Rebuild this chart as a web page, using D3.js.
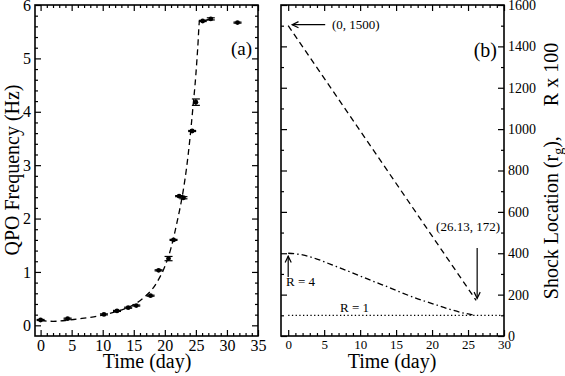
<!DOCTYPE html>
<html><head><meta charset="utf-8">
<script src="https://cdn.jsdelivr.net/npm/d3@7"></script>
<style>
body{margin:0;background:#fff;}
svg{display:block;}
svg text{font-family:"Liberation Serif","DejaVu Serif",serif;font-weight:normal;fill:#000;}
</style></head>
<body><svg id="c" width="565" height="376"></svg>
<script>
// ---- Panel (a) data: QPO frequency vs time ----
const days   = [0, 4.35, 10.2, 12.3, 14.1, 15.4, 17.7, 19.0, 20.6, 21.4, 22.3, 23.0, 24.4, 25.0, 26.1, 27.4, 31.7];
const qpo    = [0.10, 0.125, 0.205, 0.27, 0.33, 0.37, 0.555, 1.03, 1.25, 1.60, 2.42, 2.39, 3.64, 4.18, 5.70, 5.74, 5.67];
const qpoErr = [0.01, 0.01, 0.01, 0.01, 0.01, 0.01, 0.01, 0.01, 0.04, 0.01, 0.01, 0.02, 0.01, 0.06, 0.01, 0.02, 0.01];
// fitted (dashed) curve
const fitDays = [0, 1, 2, 4, 6, 8, 10, 12, 14, 15, 16, 17, 18, 19, 20, 21, 22, 23, 23.5, 24, 24.5, 25, 25.3, 25.6, 26.2, 27.4];
const fitQpo  = [0.09, 0.08, 0.075, 0.09, 0.12, 0.15, 0.19, 0.25, 0.33, 0.39, 0.46, 0.56, 0.68, 0.86, 1.1, 1.45, 1.95, 2.55, 2.95, 3.45, 4.05, 4.7, 5.2, 5.71, 5.71, 5.74];
const aXTicks = [0, 5, 10, 15, 20, 25, 30, 35];
const aYTicks = [0, 1, 2, 3, 4, 5, 6];

// ---- Panel (b) data: shock location and compression ratio ----
const shockDays = [0, 26.13];
const shockLoc  = [1500, 172];
const ratioDays = [0, 2, 4, 6, 8, 10, 12, 14, 16, 18, 20, 22, 24, 26];
const ratioVals = [400, 392, 372, 345, 318, 290, 262, 235, 206, 180, 157, 134, 114, 100];
const rOneDays  = [0, 30];
const rOneVals  = [100, 100];
const bXTicks = [0, 5, 10, 15, 20, 25, 30];
const bYTicks = [0, 200, 400, 600, 800, 1000, 1200, 1400, 1600];

const FONT = "Liberation Serif, DejaVu Serif, serif";
const svg = d3.select("#c");

function frame(x0, x1, y0, y1) {
  svg.append("rect").attr("x", x0).attr("y", y0).attr("width", x1 - x0).attr("height", y1 - y0)
    .attr("fill", "none").attr("stroke", "#000").attr("stroke-width", 1.6);
}
function styleAxis(sel, fs) {
  sel.attr("font-family", FONT);
  sel.select(".domain").remove();
  sel.selectAll(".tick line").attr("stroke", "#000").attr("stroke-width", 1.2);
  sel.selectAll(".tick text").attr("fill", "#000").attr("font-size", fs).attr("font-family", FONT);
}
function axes(x, y, xMaj, xMin, yMaj, yMin, xfs, yfs, yLabelsRight) {
  const [X0, X1] = x.range(), [Y1, Y0] = y.range();
  const defs = [
    [d3.axisBottom(x), `translate(0,${Y1})`, xMaj, xMin, xfs, true],
    [d3.axisTop(x), `translate(0,${Y0})`, xMaj, xMin, xfs, false],
    [d3.axisLeft(y), `translate(${X0},0)`, yMaj, yMin, yfs, !yLabelsRight],
    [d3.axisRight(y), `translate(${X1},0)`, yMaj, yMin, yfs, yLabelsRight]
  ];
  defs.forEach(([ax, tr, maj, min, fs, lab]) => {
    const gMaj = svg.append("g").attr("transform", tr)
      .call(ax.tickValues(maj).tickSize(-6).tickPadding(4).tickFormat(lab ? d3.format("d") : () => ""));
    styleAxis(gMaj, fs);
    const gMin = svg.append("g").attr("transform", tr)
      .call(ax.tickValues(min.filter(v => !maj.includes(v))).tickSize(-3).tickFormat(() => ""));
    styleAxis(gMin, fs);
  });
}
function range(a, b, s) { const r = []; for (let v = a; v <= b + 1e-9; v += s) r.push(+v.toFixed(4)); return r; }
function label(x, y, txt, fs, anchor) {
  return svg.append("text").attr("x", x).attr("y", y).attr("font-size", fs).attr("font-family", FONT)
    .attr("text-anchor", anchor || "start").text(txt);
}

// ================= Panel (a) =================
const xa = d3.scaleLinear().domain([-0.9, 35]).range([35, 258]);
const ya = d3.scaleLinear().domain([-0.2, 6]).range([336, 5]);
axes(xa, ya, aXTicks, range(0, 35, 1), aYTicks, range(0, 6, 0.2), 16, 16, false);
frame(35, 258, 5, 336);

svg.append("path")
  .datum(fitDays.map((d, i) => [d, fitQpo[i]]))
  .attr("d", d3.line().x(d => xa(d[0])).y(d => ya(d[1])).curve(d3.curveMonotoneX))
  .attr("fill", "none").attr("stroke", "#000").attr("stroke-width", 1.3).attr("stroke-dasharray", "6,4");

const pts = svg.append("g");
days.forEach((d, i) => {
  const cx = xa(d), v = qpo[i], e = qpoErr[i];
  const yt = ya(v + e), ybt = ya(v - e);
  pts.append("line").attr("x1", cx).attr("x2", cx).attr("y1", yt).attr("y2", ybt).attr("stroke", "#000").attr("stroke-width", 1.2);
  [yt, ybt].forEach(yy => pts.append("line").attr("x1", cx - 4).attr("x2", cx + 4).attr("y1", yy).attr("y2", yy).attr("stroke", "#000").attr("stroke-width", 1.2));
  pts.append("circle").attr("cx", cx).attr("cy", ya(v)).attr("r", 2.4).attr("fill", "#000");
});

label(252, 55, "(a)", 19, "end");
label(147, 368, "Time (day)", 20, "middle");
svg.append("text").attr("transform", "translate(19,170) rotate(-90)").attr("text-anchor", "middle")
  .attr("font-size", 20).attr("font-family", FONT).text("QPO Frequency (Hz)");

// ================= Panel (b) =================
const xb = d3.scaleLinear().domain([-1, 30]).range([281, 504]);
const yb = d3.scaleLinear().domain([0, 1600]).range([336, 5]);
axes(xb, yb, bXTicks, range(0, 30, 1), bYTicks, range(0, 1600, 100), 13, 14, true);
frame(281, 504, 5, 336);

const lineB = d3.line().x(d => xb(d[0])).y(d => yb(d[1]));
svg.append("path").datum(shockDays.map((d, i) => [d, shockLoc[i]])).attr("d", lineB)
  .attr("fill", "none").attr("stroke", "#000").attr("stroke-width", 1.3).attr("stroke-dasharray", "6,4");
svg.append("path").datum(ratioDays.map((d, i) => [d, ratioVals[i]]))
  .attr("d", d3.line().x(d => xb(d[0])).y(d => yb(d[1])).curve(d3.curveMonotoneX))
  .attr("fill", "none").attr("stroke", "#000").attr("stroke-width", 1.3).attr("stroke-dasharray", "6,3,1.5,3");
svg.append("path").datum(rOneDays.map((d, i) => [d, rOneVals[i]])).attr("d", lineB)
  .attr("fill", "none").attr("stroke", "#000").attr("stroke-width", 1.2).attr("stroke-dasharray", "1.3,2.4");

function arrow(x1, y1, x2, y2) { // head at (x2,y2)
  svg.append("line").attr("x1", x1).attr("y1", y1).attr("x2", x2).attr("y2", y2).attr("stroke", "#000").attr("stroke-width", 1.2);
  const a = Math.atan2(y2 - y1, x2 - x1), L = 7, w = 0.45;
  const p = [[x2 - L * Math.cos(a - w), y2 - L * Math.sin(a - w)], [x2, y2], [x2 - L * Math.cos(a + w), y2 - L * Math.sin(a + w)]];
  svg.append("path").attr("d", "M" + p.map(q => q.join(",")).join("L")).attr("fill", "none").attr("stroke", "#000").attr("stroke-width", 1.2);
}
const sx0 = xb(shockDays[0]), sy0 = yb(shockLoc[0]);
arrow(sx0 + 37, sy0 - 1, sx0 + 4, sy0 - 1);
label(332, 29, "(0, 1500)", 13);
const sx1 = xb(shockDays[1]), sy1 = yb(shockLoc[1]);
arrow(sx1 + 1, 248, sx1 + 1, sy1 - 2);
label(500, 231, "(26.13, 172)", 13, "end");
arrow(xb(0), 277, xb(0), yb(ratioVals[0]) + 3);
label(286, 286, "R = 4", 13);
label(340, 312, "R = 1", 13);
label(497, 57, "(b)", 20, "end");
label(392, 368, "Time (day)", 20, "middle");
const rl = svg.append("text").attr("transform", "translate(558,171) rotate(-90)").attr("text-anchor", "middle")
  .attr("font-size", 20).attr("font-family", FONT);
rl.append("tspan").text("Shock Location (r");
rl.append("tspan").attr("dy", 5).attr("font-size", 14).text("g");
rl.append("tspan").attr("dy", -5).text("),\u00a0\u00a0\u00a0\u00a0\u00a0\u00a0R x 100");
</script></body></html>
